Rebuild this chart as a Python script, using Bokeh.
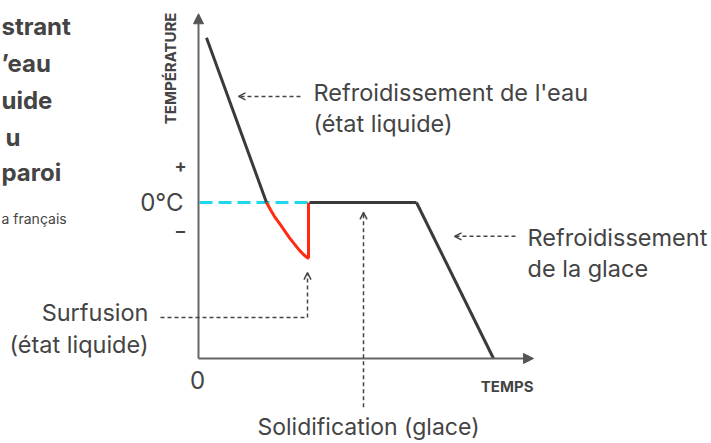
from bokeh.plotting import figure
from bokeh.models import Label, Arrow, NormalHead, OpenHead, Range1d
from bokeh.embed import file_html
from bokeh.resources import INLINE
import math

# ---- data (time in arbitrary units, temperature in °C) ----
liquid_t = [0.8, 6.8]
liquid_T = [31.7, 0.0]

supercool_t = [6.8, 7.2, 7.6, 8.1, 8.6, 9.1, 9.6, 10.1, 10.5, 10.8, 10.95, 11.0, 11.0]
supercool_T = [0.0, -1.4, -2.7, -4.0, -5.4, -6.8, -8.0, -9.2, -10.0, -10.5, -10.7, -10.5, 0.0]

solid_t = [11.1, 21.8]
solid_T = [0.0, 0.0]

ice_t = [21.8, 29.5]
ice_T = [0.0, -30.0]

zero_line_t = [0.1, 12.7]
zero_line_T = [0.0, 0.0]

axis_origin = (0.0, -30.0)
axis_t_end = 33.5
axis_T_end = 36.3

TXT = "#444444"
FONT = "Inter"
BODY = 23.5

p = figure(width=711, height=443, output_backend="svg", toolbar_location=None,
           x_range=Range1d(-19.8, 51.3), y_range=Range1d(-46.35, 38.85),
           min_border=0, min_border_left=0, min_border_right=0,
           min_border_top=0, min_border_bottom=0)
p.axis.visible = False
p.grid.visible = False
p.outline_line_color = None
p.background_fill_color = "white"
p.border_fill_color = "white"

# axes arrows
p.add_layout(Arrow(end=NormalHead(size=10, fill_color="#555555", line_color="#555555"),
                   x_start=axis_origin[0], y_start=axis_origin[1],
                   x_end=axis_origin[0], y_end=axis_T_end,
                   line_color="#666666", line_width=2))
p.add_layout(Arrow(end=NormalHead(size=10, fill_color="#555555", line_color="#555555"),
                   x_start=axis_origin[0], y_start=axis_origin[1],
                   x_end=axis_t_end, y_end=axis_origin[1],
                   line_color="#666666", line_width=2))

# 0 °C dashed line
p.line(zero_line_t, zero_line_T, line_color="#1fd6ef", line_width=3, line_dash="13 6")

# curves
p.line(liquid_t, liquid_T, line_color="#3a3a3a", line_width=3)
p.line(supercool_t, supercool_T, line_color="#ff2a10", line_width=3, line_join="round")
p.line(solid_t, solid_T, line_color="#3a3a3a", line_width=3)
p.line(ice_t, ice_T, line_color="#3a3a3a", line_width=3)

def dashed_arrow(x0, y0, x1, y1, head=True):
    kw = dict(x_start=x0, y_start=y0, x_end=x1, y_end=y1,
              line_color=TXT, line_width=1.5, line_dash="4 3")
    if head:
        kw["end"] = OpenHead(size=7, line_color=TXT, line_width=1.5)
    else:
        kw["end"] = None
    p.add_layout(Arrow(**kw))

dashed_arrow(10.2, 20.4, 4.0, 20.4)
dashed_arrow(31.7, -6.5, 25.6, -6.5)
dashed_arrow(-3.8, -22.1, 10.9, -22.1, head=False)
dashed_arrow(10.9, -22.1, 10.9, -13.5)
dashed_arrow(16.5, -39.4, 16.5, -1.9)

def label(x, y, text, size=BODY, bold=False, align="left", baseline="middle", angle=0.0):
    p.add_layout(Label(x=x, y=y, text=text, text_font=FONT, text_font_size=f"{size}px",
                       text_font_style="bold" if bold else "normal",
                       text_color=TXT, text_align=align, text_baseline=baseline,
                       angle=angle))

# title fragments (visible part of a cropped title)
label(-19.7, 33.9, "strant", 24, True)
label(-19.7, 26.8, "\u2019eau", 24, True)
label(-19.7, 19.6, "uide", 24, True)
label(-19.3, 12.5, "u", 24, True)
label(-19.7, 5.8, "paroi", 24, True)
label(-19.7, -3.1, "a français", 14)

# axis labels
label(-2.8, 25.8, "TEMPÉRATURE", 15, True, "center", "middle", math.pi / 2)
label(-1.8, 7.1, "+", 18, True, "center")
label(-1.5, 0.0, "0°C", 24, False, "right")
label(-1.8, -5.4, "\u2013", 18, True, "center")
label(-0.1, -34.2, "0", 24, False, "center")
label(33.5, -35.4, "TEMPS", 15, True, "right")

# annotations
label(11.5, 21.2, "Refroidissement de l'eau")
label(11.5, 15.2, "(état liquide)")
label(32.9, -6.7, "Refroidissement")
label(32.9, -12.7, "de la glace")
label(-5.0, -21.2, "Surfusion", align="right")
label(-5.0, -27.3, "(état liquide)", align="right")
label(17.0, -43.2, "Solidification (glace)", 23, align="center")

open("out.html", "w").write(file_html(p, INLINE))
